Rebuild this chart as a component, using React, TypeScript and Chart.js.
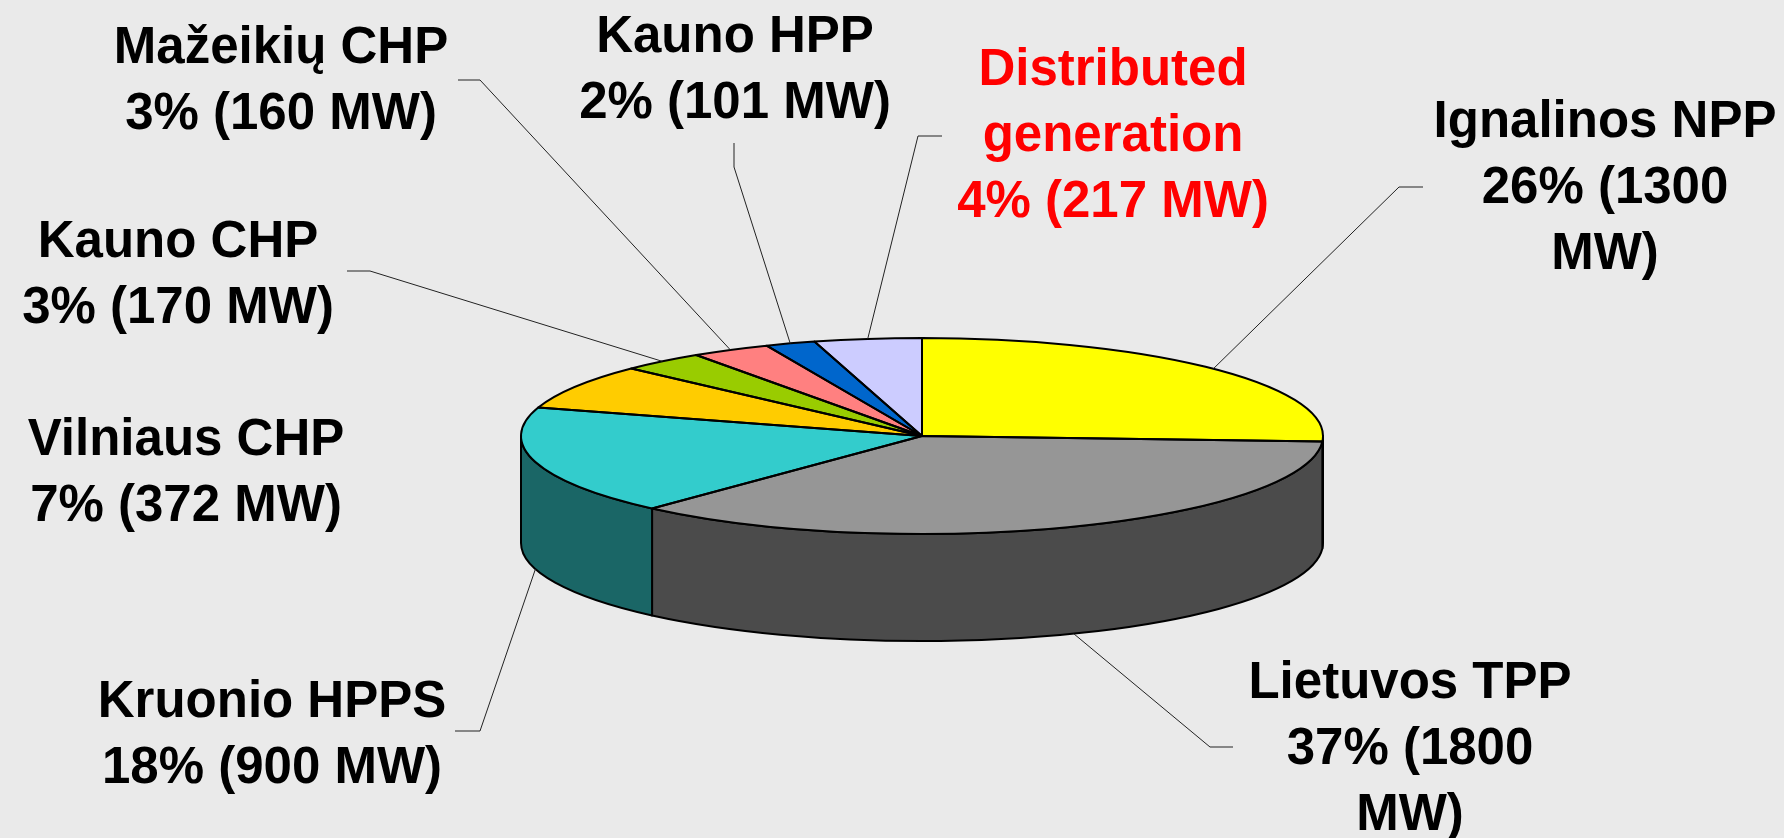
import React, { useEffect, useRef } from 'react';
import { Chart, registerables } from 'chart.js';

Chart.register(...registerables);

// ---- data ----
const categories = [
  'Ignalinos NPP',
  'Lietuvos TPP',
  'Kruonio HPPS',
  'Vilniaus CHP',
  'Kauno CHP',
  'Mažeikių CHP',
  'Kauno HPP',
  'Distributed generation',
];
const capacityMW = [1300, 1800, 900, 372, 170, 160, 101, 217];
const sharePercent = [26, 37, 18, 7, 3, 3, 2, 4];
const nameLines = [
  ['Ignalinos NPP'],
  ['Lietuvos TPP'],
  ['Kruonio HPPS'],
  ['Vilniaus CHP'],
  ['Kauno CHP'],
  ['Mažeikių CHP'],
  ['Kauno HPP'],
  ['Distributed', 'generation'],
];
const wrapValue = [true, true, false, false, false, false, false, false];

// ---- styles ----
const topColors = ['#ffff00', '#969696', '#33cccc', '#ffcc00', '#99cc00', '#ff8080', '#0066cc', '#ccccff'];
const textColors = ['#000', '#000', '#000', '#000', '#000', '#000', '#000', '#ff0000'];
const BG = '#eaeaea';
const TILT = 98 / 401;
const DEPTH = 107;
const FONT = "bold 51px 'Liberation Sans', Arial, sans-serif";
const LINE_H = 66;

// label layout: centre x, first baseline y, leader elbow (label end, corner)
const labelLayout: { x: number; y: number; elbow?: number[][] }[] = [
  { x: 1605, y: 137, elbow: [[1423, 187], [1399, 187]] },
  { x: 1410, y: 698, elbow: [[1233, 747], [1210, 747]] },
  { x: 272, y: 717, elbow: [[455, 731], [480, 731]] },
  { x: 186, y: 455 },
  { x: 178, y: 257, elbow: [[347, 271], [370, 271]] },
  { x: 281, y: 63, elbow: [[458, 80], [480, 80]] },
  { x: 735, y: 52, elbow: [[734, 143], [734, 167]] },
  { x: 1113, y: 85, elbow: [[942, 136], [918, 136]] },
];

function darken(hex: string): string {
  const n = parseInt(hex.slice(1), 16);
  const r = Math.round(((n >> 16) & 255) * 0.5);
  const g = Math.round(((n >> 8) & 255) * 0.5);
  const b = Math.round((n & 255) * 0.5);
  return `rgb(${r},${g},${b})`;
}

function buildLines(i: number): string[] {
  const v = wrapValue[i]
    ? [`${sharePercent[i]}% (${capacityMW[i]}`, 'MW)']
    : [`${sharePercent[i]}% (${capacityMW[i]} MW)`];
  return [...nameLines[i], ...v];
}

const pie3d = {
  id: 'pie3d',
  _saved: false,
  beforeDatasetsDraw(chart: any) {
    const ctx = chart.ctx as CanvasRenderingContext2D;
    const arcs = chart.getDatasetMeta(0).data as any[];
    (pie3d as any)._saved = false;
    if (!arcs.length) return;
    const { x: cx, y: cy, outerRadius: rx } = arcs[0].getProps(['x', 'y', 'outerRadius'], true);
    const ry = rx * TILT;
    ctx.save();
    ctx.lineWidth = 2;
    ctx.strokeStyle = '#000';
    ctx.lineJoin = 'round';
    arcs.forEach((arc, i) => {
      const { startAngle, endAngle } = arc.getProps(['startAngle', 'endAngle'], true);
      const s = Math.max(startAngle, 0);
      const e = Math.min(endAngle, Math.PI);
      if (e <= s) return;
      ctx.beginPath();
      ctx.ellipse(cx, cy, rx, ry, 0, s, e);
      ctx.lineTo(cx + rx * Math.cos(e), cy + ry * Math.sin(e) + DEPTH);
      ctx.ellipse(cx, cy + DEPTH, rx, ry, 0, e, s, true);
      ctx.closePath();
      ctx.fillStyle = darken(topColors[i]);
      ctx.fill();
      ctx.stroke();
    });
    ctx.restore();
    ctx.save();
    ctx.translate(0, cy);
    ctx.scale(1, TILT);
    ctx.translate(0, -cy);
    (pie3d as any)._saved = true;
  },
  afterDatasetsDraw(chart: any) {
    const ctx = chart.ctx as CanvasRenderingContext2D;
    if (!(pie3d as any)._saved) return;
    ctx.restore();
    const arcs = chart.getDatasetMeta(0).data as any[];
    ctx.save();
    ctx.lineWidth = 2;
    ctx.strokeStyle = '#000';
    ctx.lineJoin = 'round';
    arcs.forEach((arc) => {
      const { x: cx, y: cy, outerRadius: rx, startAngle, endAngle } = arc.getProps(
        ['x', 'y', 'outerRadius', 'startAngle', 'endAngle'],
        true
      );
      ctx.save();
      ctx.translate(0, cy);
      ctx.scale(1, TILT);
      ctx.translate(0, -cy);
      ctx.beginPath();
      ctx.moveTo(cx, cy);
      ctx.arc(cx, cy, rx, startAngle, endAngle);
      ctx.closePath();
      ctx.restore();
      ctx.stroke();
    });
    ctx.restore();
  },
  afterDraw(chart: any) {
    const ctx = chart.ctx as CanvasRenderingContext2D;
    const arcs = chart.getDatasetMeta(0).data as any[];
    ctx.save();
    // leader lines
    ctx.lineWidth = 1;
    ctx.strokeStyle = '#222';
    arcs.forEach((arc, i) => {
      const lay = labelLayout[i];
      if (!lay.elbow) return;
      const { x: cx, y: cy, outerRadius: rx, startAngle, endAngle } = arc.getProps(
        ['x', 'y', 'outerRadius', 'startAngle', 'endAngle'],
        true
      );
      const ry = rx * TILT;
      const mid = (startAngle + endAngle) / 2;
      const front = Math.sin(mid) > 0;
      const ax = cx + rx * Math.cos(mid);
      const ay = cy + ry * Math.sin(mid) + (front ? DEPTH : 0);
      ctx.beginPath();
      ctx.moveTo(lay.elbow[0][0], lay.elbow[0][1]);
      ctx.lineTo(lay.elbow[1][0], lay.elbow[1][1]);
      ctx.lineTo(ax, ay);
      ctx.stroke();
    });
    // labels
    ctx.font = FONT;
    ctx.textAlign = 'center';
    ctx.textBaseline = 'alphabetic';
    categories.forEach((_, i) => {
      const lay = labelLayout[i];
      ctx.fillStyle = textColors[i];
      buildLines(i).forEach((line, k) => {
        ctx.fillText(line, lay.x, lay.y + k * LINE_H);
      });
    });
    ctx.restore();
  },
};

export default function App() {
  const ref = useRef<HTMLCanvasElement | null>(null);
  useEffect(() => {
    if (!ref.current) return;
    const chart = new Chart(ref.current, {
      type: 'pie',
      data: {
        labels: categories,
        datasets: [
          {
            data: capacityMW,
            backgroundColor: topColors,
            borderWidth: 0,
            clip: false as any,
          },
        ],
      },
      options: {
        animation: false,
        responsive: false,
        devicePixelRatio: 1,
        events: [],
        layout: { padding: { left: 521, right: 461, top: 35, bottom: 1 } },
        plugins: {
          legend: { display: false },
          tooltip: { enabled: false },
        },
      },
      plugins: [pie3d as any],
    });
    return () => chart.destroy();
  }, []);
  return (
    <div style={{ position: 'fixed', left: 0, top: 0, width: 1784, height: 838, background: BG }}>
      <canvas ref={ref} width={1784} height={838} style={{ display: 'block', width: 1784, height: 838 }} />
    </div>
  );
}
